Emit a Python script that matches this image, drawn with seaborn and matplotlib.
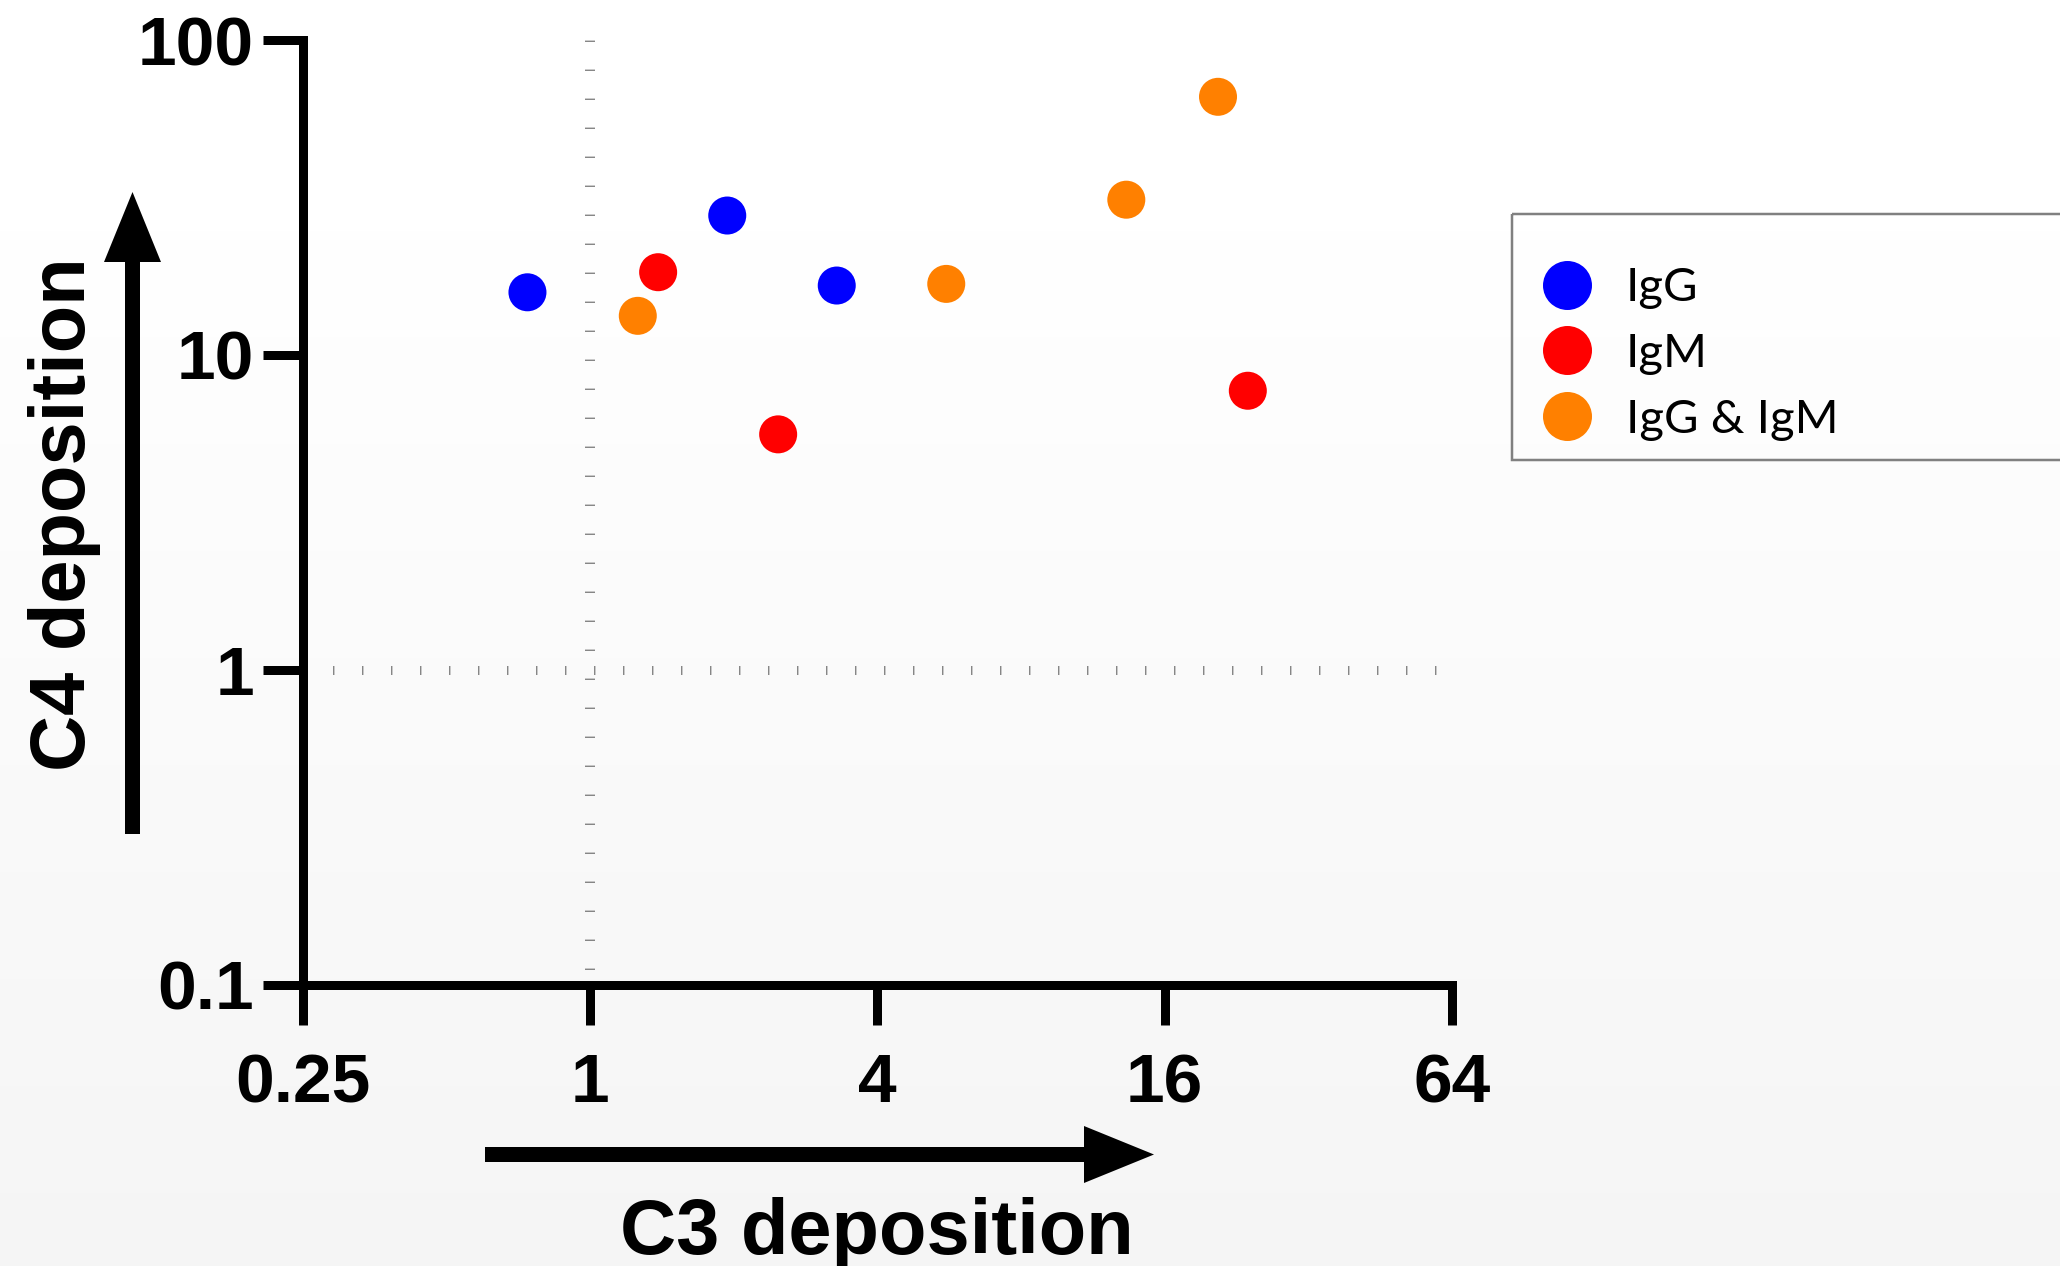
import numpy as np
import pandas as pd
import matplotlib
matplotlib.use("Agg")
import matplotlib.pyplot as plt
from matplotlib.lines import Line2D
from matplotlib.patches import FancyArrow, Rectangle
import seaborn as sns

# C3 / C4 deposition per sample, grouped by antibody class
groups = ["IgG", "IgG", "IgG",
          "IgM", "IgM", "IgM",
          "IgG & IgM", "IgG & IgM", "IgG & IgM", "IgG & IgM"]
c3_deposition = [0.74, 1.94, 3.29, 1.39, 2.48, 23.9, 1.26, 5.58, 13.3, 20.7]
c4_deposition = [15.8, 27.7, 16.6, 18.3, 5.59, 7.69, 13.3, 16.8, 31.1, 66.0]

group_order = ["IgG", "IgM", "IgG & IgM"]
group_colors = ["#0000ff", "#ff0000", "#ff8000"]

x_ticks = [0.25, 1, 4, 16, 64]
x_tick_labels = ["0.25", "1", "4", "16", "64"]
y_ticks = [0.1, 1, 10, 100]
y_tick_labels = ["0.1", "1", "10", "100"]

df = pd.DataFrame({"C3": c3_deposition, "C4": c4_deposition, "group": groups})

W, H, DPI = 2060, 1266, 100
PX = 72 / DPI  # points per pixel

sns.set_style("ticks")
plt.rcParams["font.family"] = ["Liberation Sans", "DejaVu Sans"]
plt.rcParams["text.color"] = "black"
plt.rcParams["axes.labelcolor"] = "black"
plt.rcParams["lines.scale_dashes"] = False

fig = plt.figure(figsize=(W / DPI, H / DPI), dpi=DPI, facecolor="white")

# full-figure layer in pixel units: soft background shading, arrows, legend frame
bg = fig.add_axes([0, 0, 1, 1], zorder=0)
bg.set_xlim(0, W)
bg.set_ylim(H, 0)
bg.axis("off")
rows = np.arange(H, dtype=float)
shade = np.where(rows < 230, 1.0, 1.0 - 0.038 * (rows - 230) / (H - 230))
shade_rgb = np.repeat(np.repeat(shade[:, None, None], W, axis=1), 3, axis=2)
bg.imshow(shade_rgb, extent=[0, W, H, 0], aspect="auto", interpolation="none")

arrow_kw = dict(width=15, head_width=57, head_length=70,
                length_includes_head=True, color="black", linewidth=0)
bg.add_patch(FancyArrow(132.5, 834, 0, 192 - 834, **arrow_kw))
bg.add_patch(FancyArrow(485, 1154.5, 1154 - 485, 0, **arrow_kw))
bg.add_patch(Rectangle((1512, 214), 700, 246, fill=False,
                       edgecolor="#808080", linewidth=2.5 * PX))

# main scatter axes
left, right, top, bottom = 302.5, 1452, 40, 984.5
ax = fig.add_axes([left / W, 1 - bottom / H, (right - left) / W, (bottom - top) / H],
                  zorder=1)
ax.patch.set_alpha(0)
ax.set_xscale("log", base=2)
ax.set_yscale("log")
ax.set_xlim(0.25, 64)
ax.set_ylim(0.1, 100)

# dotted reference lines through x = 1 and y = 1
ax.plot([1, 1], [100, 0.1], color="#555555", lw=10 * PX,
        linestyle=(28.3 * PX, (1 * PX, 28 * PX)), dash_capstyle="butt", zorder=1)
ax.plot([0.25, 64], [1, 1], color="#555555", lw=9 * PX,
        linestyle=(28.2 * PX, (1 * PX, 28 * PX)), dash_capstyle="butt", zorder=1)

sns.scatterplot(data=df, x="C3", y="C4", hue="group", hue_order=group_order,
                palette=group_colors, s=(38 * PX) ** 2, linewidth=0,
                legend=False, ax=ax, zorder=3)

ax.set_xticks(x_ticks, x_tick_labels, fontsize=50, fontweight="bold")
ax.set_yticks(y_ticks, y_tick_labels, fontsize=50, fontweight="bold")
ax.minorticks_off()
for side in ["top", "right"]:
    ax.spines[side].set_visible(False)
for side in ["left", "bottom"]:
    ax.spines[side].set_linewidth(9 * PX)
    ax.spines[side].set_color("black")
    ax.spines[side].set_capstyle("projecting")
ax.tick_params(which="major", direction="out", length=40 * PX, width=9 * PX,
               color="black", labelcolor="black")
ax.tick_params(axis="x", pad=20)
ax.tick_params(axis="y", pad=6)

ax.set_xlabel("C3 deposition", fontsize=56, fontweight="bold", color="black")
ax.set_ylabel("C4 deposition", fontsize=56, fontweight="bold", color="black")
ax.xaxis.set_label_coords(0.5, -0.225)
ax.yaxis.set_label_coords(-0.1753, 0.4979)

handles = [Line2D([], [], marker="o", linestyle="none", markersize=49 * PX,
                  markerfacecolor=c, markeredgewidth=0) for c in group_colors]
fig.legend(handles, group_order, loc="center left",
           bbox_to_anchor=(1543.4 / W, 1 - 354 / H), frameon=False,
           prop={"family": "Lato", "size": 34}, handlelength=1.0,
           handletextpad=0.75, labelspacing=0.5, borderpad=0, borderaxespad=0,
           labelcolor="black")

fig.savefig("out.png", dpi=DPI, facecolor="white")
